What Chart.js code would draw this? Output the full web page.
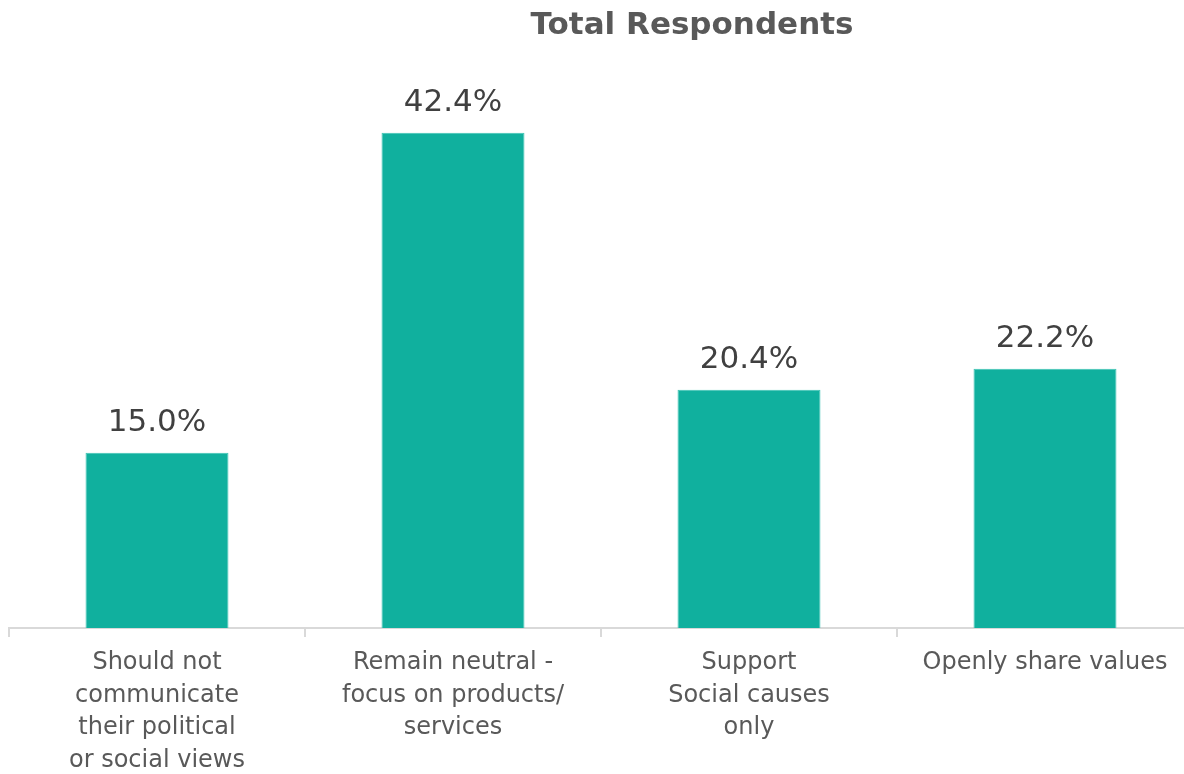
<!DOCTYPE html>
<html>
<head>
<meta charset="utf-8">
<script src="https://cdn.jsdelivr.net/npm/chart.js@4"></script>
<style>
  html, body { margin: 0; padding: 0; background: #fff; overflow: hidden; }
  #wrap { position: relative; width: 1200px; height: 774px; }
</style>
</head>
<body>
<div id="wrap"><canvas id="chart"></canvas></div>
<script>
const categories = [
  ['Should not', 'communicate', 'their political', 'or social views'],
  ['Remain neutral -', 'focus on products/', 'services'],
  ['Support', 'Social causes', 'only'],
  ['Openly share values']
];
const values = [15.0, 42.4, 20.4, 22.2];
const chartTitle = 'Total Respondents';

const FONT = '"DejaVu Sans", sans-serif';

// value labels above bars + title
const labelsPlugin = {
  id: 'labels',
  afterDatasetsDraw(chart) {
    const ctx = chart.ctx;
    const meta = chart.getDatasetMeta(0);
    ctx.save();
    ctx.fillStyle = '#404040';
    ctx.font = '31px ' + FONT;
    ctx.textAlign = 'center';
    ctx.textBaseline = 'bottom';
    meta.data.forEach((bar, i) => {
      ctx.fillText(values[i].toFixed(1) + '%', bar.x, bar.y - 14);
    });
    ctx.fillStyle = '#595959';
    ctx.font = 'bold 31px ' + FONT;
    ctx.textBaseline = 'middle';
    ctx.fillText(chartTitle, 692, 26);
    ctx.restore();
  }
};

new Chart(document.getElementById('chart'), {
  type: 'bar',
  data: {
    labels: categories,
    datasets: [{
      data: values,
      backgroundColor: '#10b09e',
      borderColor: '#3cc4b4',
      borderWidth: 1,
      categoryPercentage: 1,
      barPercentage: 0.483
    }]
  },
  options: {
    responsive: true,
    maintainAspectRatio: false,
    animation: false,
    layout: { padding: { left: 9, right: 7, top: 44, bottom: 0 } },
    plugins: { legend: { display: false }, tooltip: { enabled: false } },
    scales: {
      x: {
        afterFit(scale) { scale.height = 146; },
        border: { color: '#d9d9d9', width: 2 },
        grid: { offset: true, drawOnChartArea: false, tickLength: 9, color: '#d9d9d9', lineWidth: 2 },
        ticks: {
          color: '#595959',
          font: { family: FONT, size: 24, lineHeight: 1.37 },
          padding: 9,
          maxRotation: 0
        }
      },
      y: {
        display: false,
        min: 0,
        max: 50
      }
    }
  },
  plugins: [labelsPlugin]
});
</script>
</body>
</html>
